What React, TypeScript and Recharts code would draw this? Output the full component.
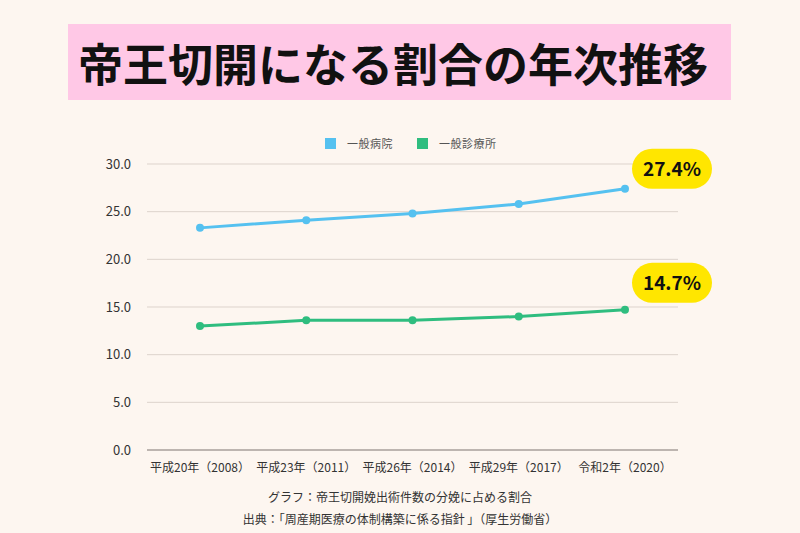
import { LineChart, Line, XAxis, YAxis, CartesianGrid, LabelList } from 'recharts'

const years = ['平成20年（2008）', '平成23年（2011）', '平成26年（2014）', '平成29年（2017）', '令和2年（2020）']
const hospital = [23.3, 24.1, 24.8, 25.8, 27.4]
const clinic = [13.0, 13.6, 13.6, 14.0, 14.7]
const yTicks = [0, 5, 10, 15, 20, 25, 30]

const BLUE = '#55c1f0'
const GREEN = '#2fbd7f'
const FONT = '"Noto Sans CJK JP", "Noto Sans", sans-serif'

const data = years.map((year, i) => ({ year, hospital: hospital[i], clinic: clinic[i] }))

const makePill = (dy: number) => (props: any) => {
  const { x, y, index, value } = props
  if (index !== years.length - 1) return null
  const cx = x + 47
  const cy = y + dy
  return (
    <g>
      <rect x={cx - 40} y={cy - 20} width={80} height={40} rx={20} fill="#ffe600" />
      <text x={cx} y={cy + 7} textAnchor="middle" fontSize={19} fontWeight={700} fill="#111" fontFamily={FONT}>
        {Number(value).toFixed(1)}%
      </text>
    </g>
  )
}

const App = () => {
  return (
    <div style={{
      position: 'absolute',
      top: 0,
      left: 0,
      width: 800,
      height: 533,
      background: '#fdf6f0',
      fontFamily: FONT,
      overflow: 'hidden'
    }}>
      <div style={{
        position: 'absolute',
        left: 68,
        top: 24,
        width: 663,
        height: 76,
        background: '#ffc8e6',
        display: 'flex',
        alignItems: 'center',
        paddingLeft: 10,
        boxSizing: 'border-box',
        fontSize: 45,
        fontWeight: 700,
        color: '#111'
      }}>
        帝王切開になる割合の年次推移
      </div>

      <div style={{ position: 'absolute', top: 135, left: 325, display: 'flex', alignItems: 'center', fontSize: 11, color: '#555' }}>
        <span style={{ width: 11, height: 11, background: BLUE, display: 'inline-block', marginRight: 11 }} />
        <span style={{ marginRight: 24, letterSpacing: 0.5 }}>一般病院</span>
        <span style={{ width: 11, height: 11, background: GREEN, display: 'inline-block', marginRight: 11 }} />
        <span style={{ letterSpacing: 0.5 }}>一般診療所</span>
      </div>

      <div style={{ position: 'absolute', top: 0, left: 0 }}>
        <LineChart width={800} height={533} data={data} margin={{ top: 164, right: 122, bottom: 53, left: 87 }}>
          <CartesianGrid vertical={false} stroke="#ddd3cc" strokeWidth={1} />
          <XAxis
            dataKey="year"
            height={30}
            padding={{ left: 53, right: 53 }}
            tickLine={false}
            axisLine={{ stroke: '#bdb5b0', strokeWidth: 2 }}
            tick={{ fontSize: 12, fill: '#333', fontFamily: FONT }}
            tickMargin={7}
            interval={0}
          />
          <YAxis
            width={60}
            domain={[0, 30]}
            ticks={yTicks}
            tickFormatter={(v: number) => v.toFixed(1)}
            tickLine={false}
            axisLine={false}
            tick={{ fontSize: 13, fill: '#333', fontFamily: FONT }}
            tickMargin={10}
          />
          <Line
            type="linear"
            dataKey="hospital"
            stroke={BLUE}
            strokeWidth={3}
            dot={{ r: 4, fill: BLUE, stroke: BLUE, strokeWidth: 0 }}
            isAnimationActive={false}
          >
            <LabelList dataKey="hospital" content={makePill(-20)} />
          </Line>
          <Line
            type="linear"
            dataKey="clinic"
            stroke={GREEN}
            strokeWidth={3}
            dot={{ r: 4, fill: GREEN, stroke: GREEN, strokeWidth: 0 }}
            isAnimationActive={false}
          >
            <LabelList dataKey="clinic" content={makePill(-27)} />
          </Line>
        </LineChart>
      </div>

      <div style={{
        position: 'absolute',
        top: 486,
        left: 0,
        width: 800,
        textAlign: 'center',
        fontSize: 12,
        lineHeight: '22px',
        color: '#333'
      }}>
        <div>グラフ：帝王切開娩出術件数の分娩に占める割合</div>
        <div>出典：「周産期医療の体制構築に係る指針 」（厚生労働省）</div>
      </div>
    </div>
  )
}

export default App
